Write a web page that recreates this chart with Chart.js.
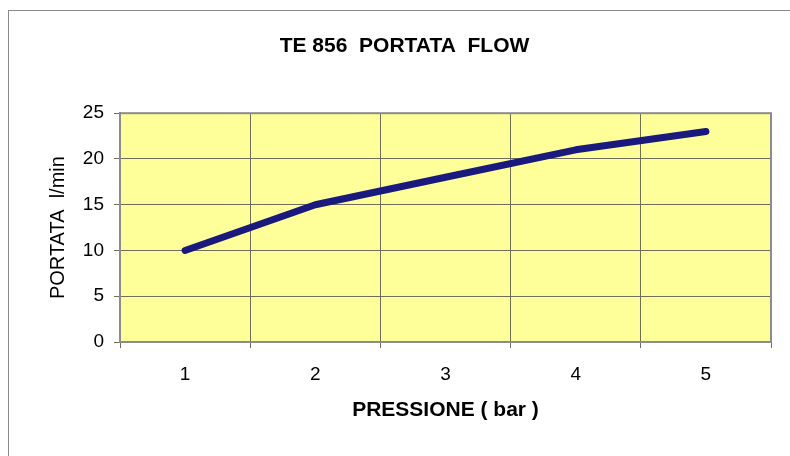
<!DOCTYPE html>
<html>
<head>
<meta charset="utf-8">
<script src="https://cdn.jsdelivr.net/npm/chart.js@4/dist/chart.umd.min.js"></script>
<style>
html,body{margin:0;padding:0;background:#fff;}
#wrap{width:790px;height:456px;position:relative;}
</style>
</head>
<body>
<div id="wrap"><canvas id="c" width="790" height="456"></canvas></div>
<script>
const categories = ['1', '2', '3', '4', '5'];
const portata = [10, 15, 18, 21, 23];
const yTicks = [0, 5, 10, 15, 20, 25];

const FONT = '"Liberation Sans", Arial, sans-serif';

const framePlugin = {
  id: 'frame',
  afterLayout(chart) {
    if (chart.titleBlock) {
      chart.titleBlock.left += 14;
      chart.titleBlock.right += 14;
    }
  },
  beforeDraw(chart) {
    const ctx = chart.ctx;
    const a = chart.chartArea;
    ctx.save();
    ctx.fillStyle = '#ffffff';
    ctx.fillRect(0, 0, chart.width, chart.height);
    ctx.strokeStyle = '#8a8a8a';
    ctx.lineWidth = 1;
    ctx.strokeRect(8.5, 10.5, 900, 600);
    ctx.fillStyle = '#ffff99';
    ctx.fillRect(a.left, a.top, a.right - a.left, a.bottom - a.top);
    ctx.restore();
  },
  afterDatasetsDraw(chart) {
    const ctx = chart.ctx;
    const a = chart.chartArea;
    ctx.save();
    ctx.strokeStyle = '#8c8c8c';
    ctx.lineWidth = 2;
    ctx.strokeRect(a.left, a.top, a.right - a.left, a.bottom - a.top);
    ctx.restore();
  }
};

new Chart(document.getElementById('c'), {
  type: 'line',
  data: {
    labels: categories,
    datasets: [{
      data: portata,
      borderColor: '#1a1a7e',
      borderWidth: 7,
      borderCapStyle: 'round',
      borderJoinStyle: 'round',
      pointRadius: 0,
      tension: 0,
      fill: false
    }]
  },
  options: {
    responsive: false,
    animation: false,
    devicePixelRatio: 1,
    layout: { padding: { left: 10, right: 19, top: 0, bottom: 0 } },
    plugins: {
      legend: { display: false },
      tooltip: { enabled: false },
      title: {
        display: true,
        text: 'TE 856  PORTATA  FLOW',
        color: '#000',
        font: { family: FONT, size: 21, weight: 'bold' },
        padding: { top: 34, bottom: 54 }
      }
    },
    scales: {
      x: {
        type: 'category',
        offset: true,
        grid: {
          offset: true,
          color: '#6e6e5a',
          lineWidth: 1,
          tickLength: 6,
          drawOnChartArea: true
        },
        border: { color: '#6e6e6e', width: 2 },
        ticks: {
          color: '#000',
          font: { family: FONT, size: 19 },
          padding: 15,
          maxRotation: 0
        },
        title: {
          display: true,
          text: 'PRESSIONE ( bar )',
          color: '#000',
          font: { family: FONT, size: 21, weight: 'bold' },
          padding: { top: 8, bottom: 33 }
        },
        afterFit(scale) { scale.height = 114; }
      },
      y: {
        min: 0,
        max: 25,
        afterBuildTicks(scale) { scale.ticks = yTicks.map(v => ({ value: v })); },
        grid: {
          color: '#6e6e5a',
          lineWidth: 1,
          tickLength: 6
        },
        border: { color: '#6e6e6e', width: 2 },
        ticks: {
          color: '#000',
          font: { family: FONT, size: 19 },
          padding: 10
        },
        title: {
          display: true,
          text: 'PORTATA  l/min',
          color: '#000',
          font: { family: FONT, size: 20 },
          padding: { top: 36, bottom: 8 }
        },
        afterFit(scale) { scale.width = 110; }
      }
    }
  },
  plugins: [framePlugin]
});
</script>
</body>
</html>
